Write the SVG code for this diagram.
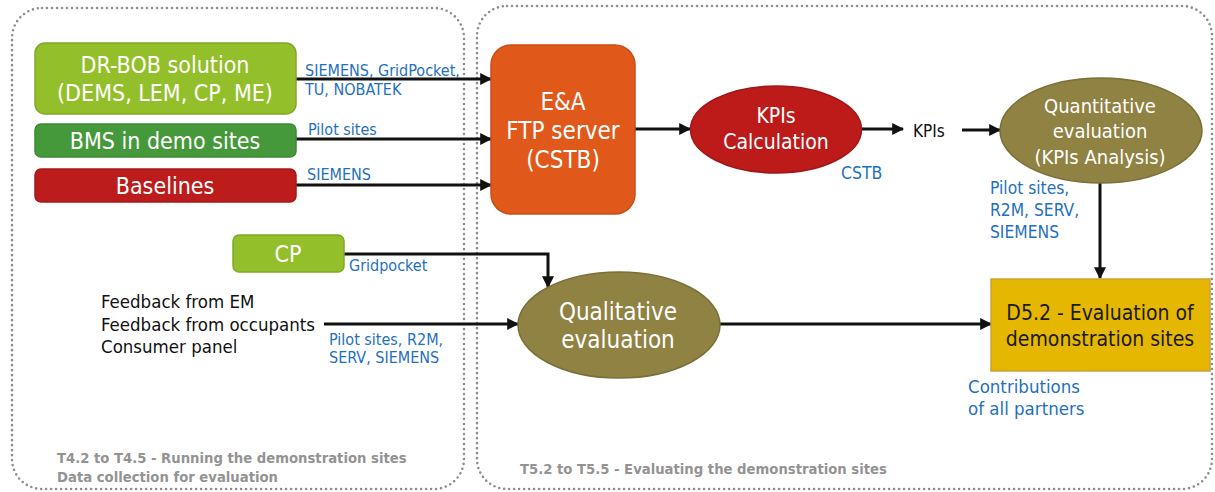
<svg xmlns="http://www.w3.org/2000/svg" width="1215" height="492" viewBox="0 0 1215 492">
  <defs>
    <marker id="arrow" viewBox="0 0 10 10" refX="9" refY="5" markerWidth="4" markerHeight="4" markerUnits="strokeWidth" orient="auto">
      <path d="M0,0 L10,5 L0,10 z" fill="#111"/>
    </marker>
    <style>
      text { font-family: "DejaVu Sans Condensed", "DejaVu Sans", "Liberation Sans", sans-serif; }
      .frame { fill: none; stroke: #8e8e8e; stroke-width: 2.6; stroke-dasharray: 0 5; stroke-linecap: round; }
      .wire { fill: none; stroke: #111; stroke-width: 3; marker-end: url(#arrow); }
      .lbl { fill: #1f70bf; font-size: 16px; }
      .big { fill: #fff; font-size: 23px; text-anchor: middle; }
      .mid { fill: #fff; font-size: 20px; text-anchor: middle; }
      .dark { fill: #111; font-size: 18.5px; }
      .task { fill: #939393; font-size: 14.7px; font-weight: bold; }
    </style>
  </defs>

  <!-- work-package frames -->
  <g id="frame-t4">
    <rect class="frame" x="12" y="8" width="452" height="481" rx="30"/>
    <text class="task" x="57" y="463">T4.2 to T4.5 - Running the demonstration sites</text>
    <text class="task" x="57" y="482">Data collection for evaluation</text>
  </g>
  <g id="frame-t5">
    <rect class="frame" x="477" y="6" width="735" height="483" rx="30"/>
    <text class="task" x="520" y="474">T5.2 to T5.5 - Evaluating the demonstration sites</text>
  </g>

  <!-- connectors -->
  <g id="connectors">
    <line class="wire" x1="296" y1="79" x2="491" y2="79"/>
    <line class="wire" x1="296" y1="139" x2="491" y2="139"/>
    <line class="wire" x1="296" y1="185" x2="491" y2="185"/>
    <line class="wire" x1="635" y1="129" x2="690" y2="129"/>
    <line class="wire" x1="862" y1="129" x2="903" y2="129"/>
    <line class="wire" x1="962" y1="130" x2="1000" y2="130"/>
    <line class="wire" x1="1100" y1="183" x2="1100" y2="278"/>
    <polyline class="wire" points="344,254 548,254 548,287"/>
    <line class="wire" x1="324" y1="324" x2="518" y2="324"/>
    <line class="wire" x1="720" y1="324" x2="991" y2="324"/>

    <text class="lbl" x="305" y="76">SIEMENS, GridPocket,</text>
    <text class="lbl" x="305" y="95">TU, NOBATEK</text>
    <text class="lbl" x="308" y="135">Pilot sites</text>
    <text class="lbl" x="307" y="180">SIEMENS</text>
    <text class="lbl" x="841" y="179" style="font-size:17.5px">CSTB</text>
    <text class="lbl" x="990" y="194" style="font-size:17.3px">Pilot sites,</text>
    <text class="lbl" x="990" y="216" style="font-size:17.3px">R2M, SERV,</text>
    <text class="lbl" x="990" y="238" style="font-size:17.3px">SIEMENS</text>
    <text class="lbl" x="349" y="271">Gridpocket</text>
    <text class="lbl" x="329" y="345">Pilot sites, R2M,</text>
    <text class="lbl" x="329" y="363">SERV, SIEMENS</text>
    <text class="lbl" x="968" y="393" style="font-size:18.5px">Contributions</text>
    <text class="lbl" x="968" y="415" style="font-size:18.5px">of all partners</text>
  </g>

  <!-- source nodes -->
  <g id="drbob">
    <rect x="35" y="43" width="261" height="71" rx="10" fill="#93bf2a" stroke="#80a828" stroke-width="1.5"/>
    <text class="big" x="165" y="73">DR-BOB solution</text>
    <text class="big" x="165" y="101">(DEMS, LEM, CP, ME)</text>
  </g>
  <g id="bms">
    <rect x="35" y="124" width="261" height="33" rx="6" fill="#46993a" stroke="#3e8834" stroke-width="1.5"/>
    <text class="big" x="165" y="149">BMS in demo sites</text>
  </g>
  <g id="baselines">
    <rect x="35" y="169" width="261" height="33" rx="6" fill="#bd1c1c" stroke="#a51919" stroke-width="1.5"/>
    <text class="big" x="165" y="194">Baselines</text>
  </g>
  <g id="cp">
    <rect x="233" y="235" width="111" height="37" rx="6" fill="#93bf2a" stroke="#80a828" stroke-width="1.5"/>
    <text class="big" x="288" y="262">CP</text>
  </g>
  <g id="feedback">
    <text class="dark" x="101" y="308">Feedback from EM</text>
    <text class="dark" x="101" y="331">Feedback from occupants</text>
    <text class="dark" x="101" y="353">Consumer panel</text>
  </g>

  <!-- processing nodes -->
  <g id="ftp">
    <rect x="491" y="45" width="144" height="169" rx="20" fill="#e0581a" stroke="#c84e18" stroke-width="1.5"/>
    <text class="big" x="563" y="110" style="font-size:24px">E&amp;A</text>
    <text class="big" x="563" y="139" style="font-size:24px">FTP server</text>
    <text class="big" x="563" y="168" style="font-size:24px">(CSTB)</text>
  </g>
  <g id="kpi-calc">
    <ellipse cx="776" cy="129.5" rx="85.5" ry="43.5" fill="#bd1a1a" stroke="#a01818" stroke-width="1.5"/>
    <text class="mid" x="776" y="123" style="font-size:21px">KPIs</text>
    <text class="mid" x="776" y="149" style="font-size:21px">Calculation</text>
  </g>
  <g id="kpis">
    <text class="dark" x="913" y="137" style="font-size:17px">KPIs</text>
  </g>
  <g id="quantitative">
    <ellipse cx="1101" cy="130.5" rx="101" ry="52.5" fill="#8f8243" stroke="#7a6f38" stroke-width="1.5"/>
    <text class="mid" x="1100" y="113">Quantitative</text>
    <text class="mid" x="1100" y="138">evaluation</text>
    <text class="mid" x="1100" y="164">(KPIs Analysis)</text>
  </g>
  <g id="qualitative">
    <ellipse cx="619" cy="325" rx="101" ry="53" fill="#8f8243" stroke="#7a6f38" stroke-width="1.5"/>
    <text class="big" x="618" y="320" style="font-size:24px">Qualitative</text>
    <text class="big" x="618" y="348" style="font-size:24px">evaluation</text>
  </g>
  <g id="d52">
    <rect x="991" y="279" width="219" height="92" fill="#e5b700" stroke="#c9a23a" stroke-width="1.5"/>
    <text x="1100" y="320" font-size="21" fill="#1a1a1a" text-anchor="middle">D5.2 - Evaluation of</text>
    <text x="1100" y="346" font-size="21" fill="#1a1a1a" text-anchor="middle">demonstration sites</text>
  </g>
</svg>
